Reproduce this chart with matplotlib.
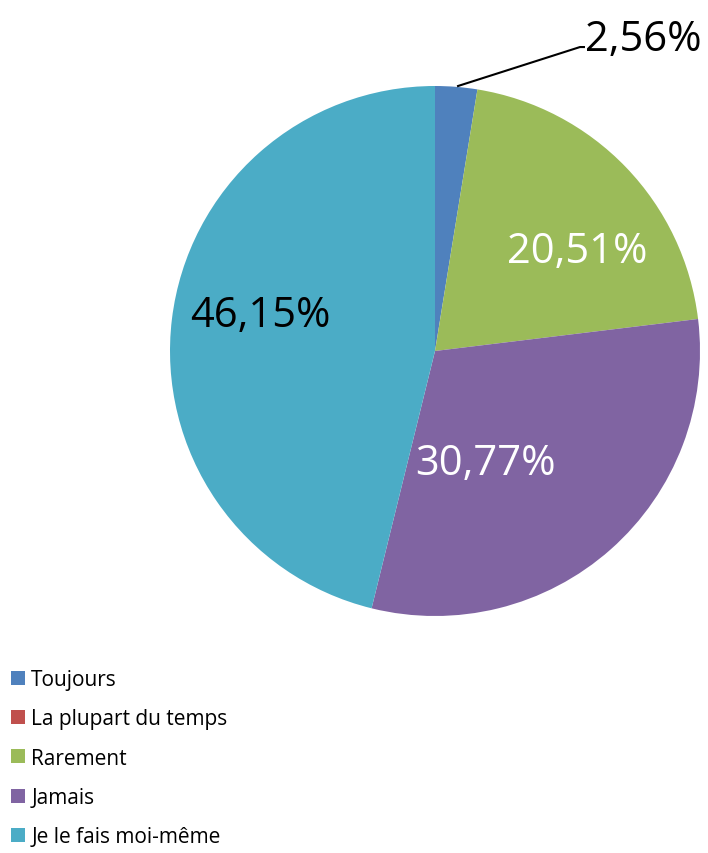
import matplotlib.pyplot as plt
from matplotlib.patches import Patch

categories = ['Toujours', 'La plupart du temps', 'Rarement', 'Jamais', 'Je le fais moi-même']
values = [2.56, 0.0, 20.51, 30.77, 46.15]
colors = ['#4F81BD', '#C0504D', '#9BBB59', '#8064A2', '#4BACC6']

plt.rcParams['font.family'] = ['Open Sans', 'DejaVu Sans']

W, H = 708, 854
fig = plt.figure(figsize=(W / 100, H / 100), dpi=100)
cx, cy, r = 435, 352, 265
ax = fig.add_axes([(cx - r) / W, (H - cy - r) / H, 2 * r / W, 2 * r / H])

wedges, _ = ax.pie(values, colors=colors, startangle=90, counterclock=False,
                   radius=1, wedgeprops=dict(linewidth=0))
ax.set_xlim(-1, 1)
ax.set_ylim(-1, 1)
ax.set_aspect('equal')
ax.axis('off')

def fmt(v):
    return ('%.2f%%' % v).replace('.', ',')

# label positions (data coords) and colours
lab_pos = {0: (0.566, 1.177, 'left', 'black'),
           2: (0.536, 0.378, 'center', 'white'),
           3: (0.189, -0.422, 'center', 'white'),
           4: (-0.660, 0.136, 'center', 'black')}
for i, (x, y, ha, c) in lab_pos.items():
    ax.text(x, y, fmt(values[i]), ha=ha, va='center', color=c,
            fontsize=30, clip_on=False)

# leader line for the small slice
ax.plot([0.087, 0.547, 0.562], [1.0, 1.147, 1.147], color='black', lw=1.5,
        clip_on=False)

handles = [Patch(facecolor=c, edgecolor='none') for c in colors]
fig.legend(handles, categories, loc='upper left',
           bbox_to_anchor=(11 / W, 1 - 670 / H), frameon=False,
           fontsize=15, borderpad=0, borderaxespad=0,
           handlelength=0.67, handleheight=0.67, handletextpad=0.3,
           labelspacing=0.88)

fig.savefig('out.png', dpi=100)
